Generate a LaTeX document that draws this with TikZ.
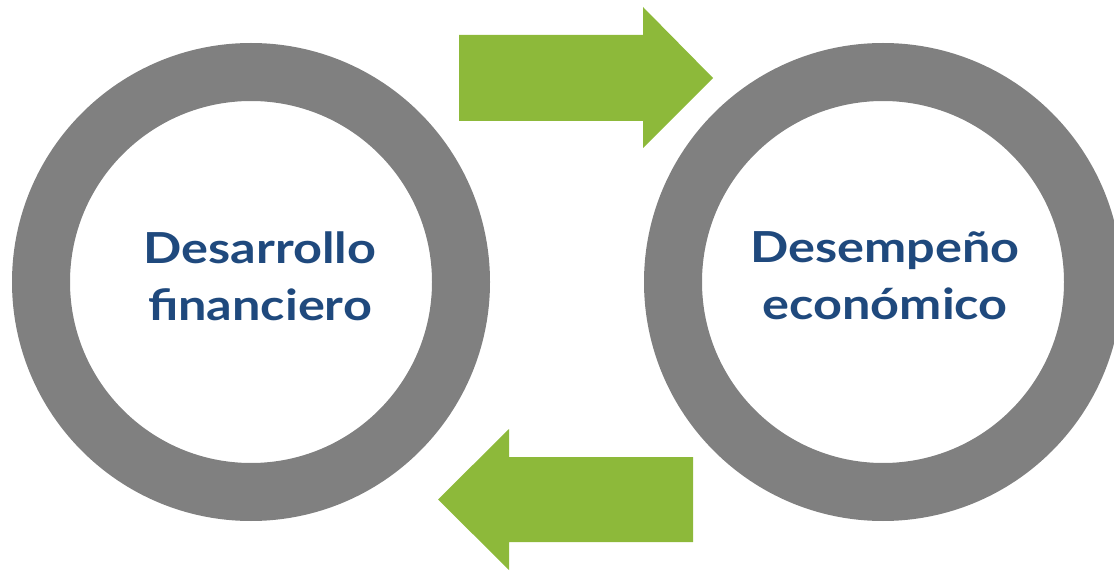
\documentclass[tikz,border=0pt]{standalone}
\usepackage{fontspec}
\setmainfont{Lato}[FakeStretch=1.18]
\definecolor{ringgrey}{RGB}{128,128,128}
\definecolor{arrowgreen}{RGB}{141,185,58}
\definecolor{textblue}{RGB}{31,73,125}
\begin{document}
\begin{tikzpicture}[x=0.025cm, y=0.025cm]
    \tikzstyle{every node}+=[inner sep=0pt]
    \tikzstyle{circletext}=[align=center, text=textblue, font=\fontsize{30.4}{40.5}\selectfont\bfseries]
    \useasboundingbox (0,0) rectangle (1114,-571);
    % rings
    \fill [ringgrey, even odd rule] (251,-282) circle (239) circle (181);
    \fill [ringgrey, even odd rule] (883,-282) circle (239) circle (181);
    \draw (260,-276) node (desarrollo) [circletext] {Desarrollo\\financiero};
    \draw (885,-276) node (desempeno) [circletext] {Desempeño\\económico};
    % arrows
    \fill [arrowgreen] (459,-35) -- (643,-35) -- (643,-7) -- (713,-78) -- (643,-148) -- (643,-121) -- (459,-121) -- cycle;
    \fill [arrowgreen] (693,-457) -- (509,-457) -- (509,-429) -- (438,-499.5) -- (509,-570) -- (509,-542) -- (693,-542) -- cycle;
\end{tikzpicture}
\end{document}
